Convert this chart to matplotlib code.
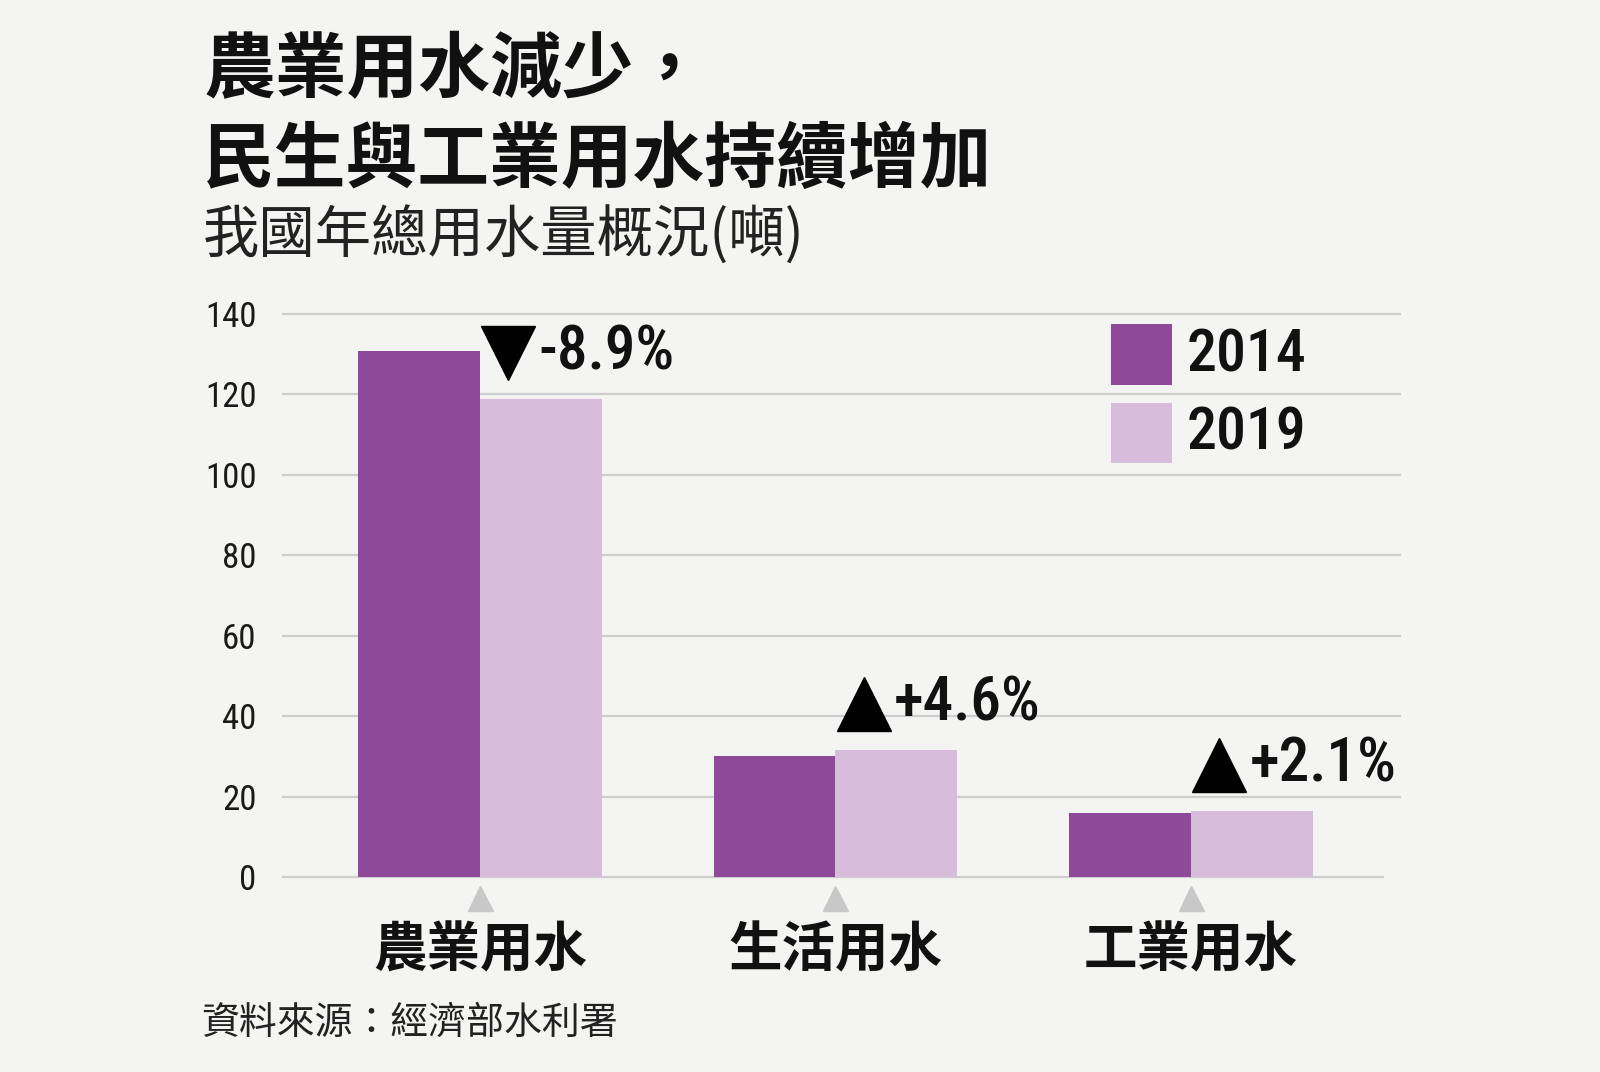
import matplotlib
matplotlib.use("Agg")
import matplotlib.pyplot as plt
from matplotlib.patches import Rectangle
from matplotlib import font_manager

# ---- data ----
categories = ["農業用水", "生活用水", "工業用水"]
years = ["2014", "2019"]
values_2014 = [130.7, 30.1, 15.8]
values_2019 = [118.8, 31.5, 16.3]
changes = ["-8.9%", "+4.6%", "+2.1%"]
yticks = [0, 20, 40, 60, 80, 100, 120, 140]

title_lines = ["農業用水減少，", "民生與工業用水持續增加"]
subtitle = "我國年總用水量概況(噸)"
source = "資料來源：經濟部水利署"

# ---- style ----
BG = "#f4f4f2"
C14 = "#8e4a98"
C19 = "#d8bcdc"
GRID = "#cdcdcd"
available = {f.name for f in font_manager.fontManager.ttflist}
num_pref = ["Liberation Sans Narrow", "Roboto Condensed", "DejaVu Sans Condensed", "Roboto"]
NUM = [n for n in num_pref if n in available][:1] + ["DejaVu Sans"]
CJK = ["Noto Sans CJK TC", "DejaVu Sans"]
plt.rcParams["font.family"] = NUM

fig = plt.figure(figsize=(16, 10.72), dpi=100, facecolor=BG)
ax = fig.add_axes([283 / 1600, 1 - 877 / 1072, (1400 - 283) / 1600, (877 - 314) / 1072])
ax.set_facecolor(BG)

w = 0.343
xs = list(range(len(categories)))
ax.bar([x - w / 2 for x in xs], values_2014, width=w, color=C14, zorder=3)
ax.bar([x + w / 2 for x in xs], values_2019, width=w, color=C19, zorder=3)

ax.set_xlim(-0.554, 2.588)
ax.set_ylim(0, 140)

# grid lines
for t in yticks:
    ax.axhline(t, xmin=0, xmax=(0.985 if t == 0 else 1.0), color=GRID, lw=1.6, zorder=1, clip_on=False)

for s in ax.spines.values():
    s.set_visible(False)
ax.set_yticks(yticks)
ax.set_yticklabels([str(t) for t in yticks], fontsize=25, color="#1a1a1a", family=NUM)
ax.tick_params(axis="y", length=0, pad=19)
ax.set_xticks([])

# category labels with small gray pointers
ax.plot(xs, [-5.3] * len(xs), linestyle="none", marker="^", markersize=18,
        color="#c8c8c8", clip_on=False, zorder=4)
for x, c in zip(xs, categories):
    ax.text(x, -18.4, c, ha="center", va="center", fontsize=38.5, fontweight="bold",
            family=CJK, color="#111111", clip_on=False)

# change annotations
for x, v19, ch in zip(xs, values_2019, changes):
    mk = "v" if ch.startswith("-") else "^"
    ax.plot([x + 0.08], [v19 + 11.6], linestyle="none", marker=mk, markersize=39,
            color="#000000", zorder=5, clip_on=False)
    ax.text(x + 0.165, v19 + 11.6, ch, ha="left", va="center", fontsize=44,
            fontweight="medium", family=NUM, color="#111111", zorder=5)

# legend (manual)
for (y0, y1), col, lab in [((0.874, 0.982), C14, years[0]), ((0.735, 0.842), C19, years[1])]:
    ax.add_patch(Rectangle((0.741, y0), 0.0546, y1 - y0, transform=ax.transAxes,
                           facecolor=col, edgecolor="none", zorder=5, clip_on=False))
    ax.text(0.809, (y0 + y1) / 2, lab, transform=ax.transAxes, ha="left", va="center",
            fontsize=43, fontweight="medium", family=NUM, color="#111111")

# titles
fig.text(0.127, 1 - 70.5 / 1072, title_lines[0], ha="left", va="center", fontsize=51.7,
         fontweight="bold", family=CJK, color="#111111")
fig.text(0.127, 1 - 161 / 1072, title_lines[1], ha="left", va="center", fontsize=51.7,
         fontweight="bold", family=CJK, color="#111111")
fig.text(0.127, 1 - 236 / 1072, subtitle, ha="left", va="center", fontsize=40.6,
         fontweight="light", family=CJK, color="#222222")
fig.text(0.126, 1 - 1023 / 1072, source, ha="left", va="center", fontsize=27.3,
         fontweight="light", family=CJK, color="#222222")

fig.savefig("out.png", dpi=100, facecolor=BG)
